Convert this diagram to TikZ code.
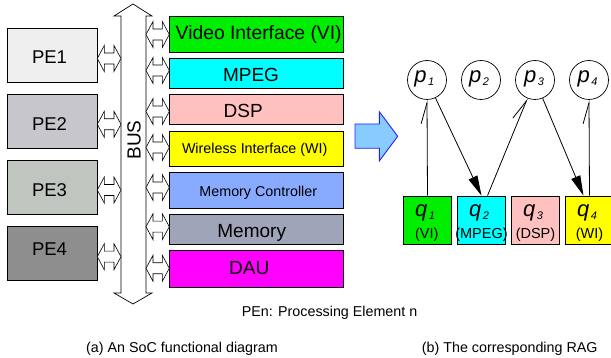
\documentclass[tikz,border=0pt]{standalone}
\usepackage{fontspec}
\setmainfont{Liberation Sans}
\usetikzlibrary{arrows.meta}
\definecolor{pea}{HTML}{EFEFEF}
\definecolor{peb}{HTML}{C7C6CA}
\definecolor{pec}{HTML}{BFC6BF}
\definecolor{ped}{HTML}{8E8E8E}
\definecolor{vic}{HTML}{00EE00}
\definecolor{mpegc}{HTML}{00FFFF}
\definecolor{dspc}{HTML}{FFC0C0}
\definecolor{wic}{HTML}{FFFF00}
\definecolor{mcc}{HTML}{88AAFF}
\definecolor{memc}{HTML}{A0A4B8}
\definecolor{dauc}{HTML}{FF00FF}
\definecolor{arrfill}{HTML}{88CCFF}
\definecolor{arrline}{HTML}{2020FF}
\newcommand\dblarr[3]{%
  \draw[blockarr] (#1,#3) -- (#1+7,#3-13) -- (#1+7,#3-5.5) -- (#2-7,#3-5.5) -- (#2-7,#3-13) -- (#2,#3)
   -- (#2-7,#3+13) -- (#2-7,#3+5.5) -- (#1+7,#3+5.5) -- (#1+7,#3+13) -- cycle;}
\newcommand\vlab[2]{\textit{#1}\hspace{1.5pt}\raisebox{-3pt}{\fontsize{11}{11}\selectfont\textit{#2}}}
\begin{document}
\begin{tikzpicture}[x=1pt,y=-1pt,
  every node/.style={inner sep=0pt},
  pebox/.style={draw, line width=0.8pt, minimum width=90pt, minimum height=54pt},
  ipbox/.style={draw, line width=0.8pt, minimum width=174pt},
  pcirc/.style={circle, draw, line width=0.7pt, minimum size=39pt},
  qbox/.style={draw, line width=0.8pt, minimum width=48pt, minimum height=48pt},
  petxt/.style={font=\fontsize{18.5}{18.5}\selectfont, anchor=base},
  bigtxt/.style={font=\fontsize{19}{19}\selectfont, anchor=base},
  midtxt/.style={font=\fontsize{14.3}{14.3}\selectfont, anchor=base},
  labtxt/.style={font=\fontsize{22}{22}\selectfont, anchor=base},
  qsub/.style={font=\fontsize{14.5}{14.5}\selectfont, anchor=base},
  conn/.style={line width=0.8pt},
  harptip/.style={conn, -{Straight Barb[harpoon,length=21pt,width=12pt]}},
  tritip/.style={conn, -{Triangle[length=20pt,width=9.5pt]}},
  blockarr/.style={line width=0.6pt, fill=white}
]
\useasboundingbox (0,0) rectangle (611,358);

% PE boxes
\node[pebox, fill=pea] (pe1) at (52,55) {};
\node[pebox, fill=peb] (pe2) at (52,121) {};
\node[pebox, fill=pec] (pe3) at (52,187) {};
\node[pebox, fill=ped] (pe4) at (52,253) {};
\node[petxt] (pe1t) at (49.5,64) {PE1};
\node[petxt] (pe2t) at (49.5,130.5) {PE2};
\node[petxt] (pe3t) at (49.5,196.5) {PE3};
\node[petxt] (pe4t) at (49.5,256) {PE4};

% bus
\draw[blockarr, line width=0.7pt] (133,4) -- (152,16) -- (146,16) -- (146,293) -- (152,293) -- (133,304)
  -- (114,293) -- (121,293) -- (121,16) -- (114,16) -- cycle;
\node[bigtxt, anchor=center, rotate=90] (bus) at (134,140) {BUS};

% IP boxes
\node[ipbox, fill=vic, minimum height=36pt] (vi) at (256.3,34) {};
\node[ipbox, fill=mpegc, minimum height=30pt] (mpeg) at (256.3,73) {};
\node[ipbox, fill=dspc, minimum height=30pt] (dsp) at (256.3,109) {};
\node[ipbox, fill=wic, minimum height=35pt] (wi) at (256.3,148.5) {};
\node[ipbox, fill=mcc, minimum height=36pt] (mc) at (256.3,190) {};
\node[ipbox, fill=memc, minimum height=30pt] (mem) at (256.3,229) {};
\node[ipbox, fill=dauc, minimum height=37pt] (dau) at (256.3,268.5) {};
\node[bigtxt, font=\fontsize{19.3}{19.3}\selectfont] (vit) at (258.7,40) {Video Interface (VI)};
\node[bigtxt] (mpegt) at (251,81.7) {MPEG};
\node[bigtxt] (dspt) at (243.2,117.3) {DSP};
\node[midtxt] (wit) at (254.7,154) {Wireless Interface (WI)};
\node[midtxt] (mct) at (258.3,196.7) {Memory Controller};
\node[bigtxt] (memt) at (251.7,237.3) {Memory};
\node[bigtxt] (daut) at (249.3,274.5) {DAU};

% double arrows PE <-> bus
\dblarr{97.3}{121}{58.5}
\dblarr{97.3}{121}{124.3}
\dblarr{97.3}{121}{190}
\dblarr{97.3}{121}{256.7}
% double arrows bus <-> IP
\dblarr{146}{169.3}{34.5}
\dblarr{146}{169.3}{70.5}
\dblarr{146}{169.3}{111.5}
\dblarr{146}{169.3}{147.5}
\dblarr{146}{169.3}{187.5}
\dblarr{146}{169.3}{226.7}
\dblarr{146}{169.3}{268.3}

% transform arrow
\draw[line width=0.9pt, draw=arrline, fill=arrfill] (355,124) -- (379.3,124) -- (379.3,111.7) -- (397.7,136.3)
  -- (379.3,161) -- (379.3,148.3) -- (355,148.3) -- cycle;

% RAG
\node[pcirc] (p1) at (427,80) {};
\node[pcirc] (p2) at (481,80) {};
\node[pcirc] (p3) at (535,80) {};
\node[pcirc] (p4) at (589,80) {};
\node[labtxt] (p1t) at (424.3,82.5) {\vlab{p}{1}};
\node[labtxt] (p2t) at (479,82.5) {\vlab{p}{2}};
\node[labtxt] (p3t) at (534,82.5) {\vlab{p}{3}};
\node[labtxt] (p4t) at (587.5,82.5) {\vlab{p}{4}};

\node[qbox, fill=vic] (q1) at (427.5,220) {};
\node[qbox, fill=mpegc] (q2) at (481.5,220) {};
\node[qbox, fill=dspc] (q3) at (535.5,220) {};
\node[qbox, fill=wic] (q4) at (589.5,220) {};
\node[labtxt] (q1t) at (425,216.7) {\vlab{q}{1}};
\node[labtxt] (q2t) at (479,216.7) {\vlab{q}{2}};
\node[labtxt] (q3t) at (533,216.7) {\vlab{q}{3}};
\node[labtxt] (q4t) at (587,216.7) {\vlab{q}{4}};
\node[qsub] (q1s) at (426.7,238.3) {(VI)};
\node[qsub] (q2s) at (481.5,238.3) {(MPEG)};
\node[qsub] (q3s) at (535.5,238.3) {(DSP)};
\node[qsub] (q4s) at (589.5,238.3) {(WI)};

\draw[harptip] (q1.north) -- (p1.south);
\draw[tritip] (p1) -- (q2.north);
\draw[harptip] ([xshift=6pt]q2.north) -- (p3);
\draw[tritip] (p3) -- ([xshift=-6pt]q4.north);
\draw[harptip] (q4.north) -- (p4.south);

% captions
\node[midtxt, anchor=base west] (legend) at (241.7,316.7) {PEn: Processing Element n};
\node[midtxt, anchor=base west] (capa) at (86,352.7) {(a) An SoC functional diagram};
\node[midtxt, anchor=base west] (capb) at (421.7,352.7) {(b) The corresponding RAG};
\end{tikzpicture}
\end{document}
